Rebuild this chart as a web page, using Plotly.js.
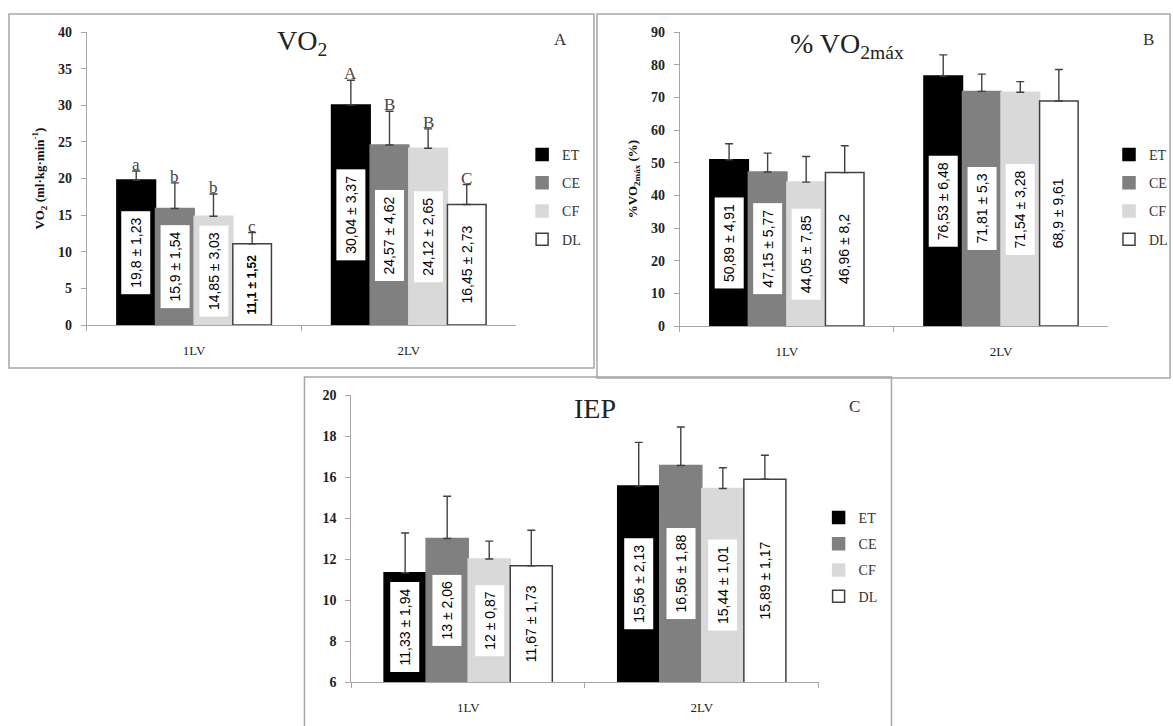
<!DOCTYPE html>
<html><head><meta charset="utf-8">
<script src="https://cdn.plot.ly/plotly-3.0.1.min.js"></script>
<style>html,body{margin:0;padding:0;background:#fff}#chart{width:1173px;height:726px}</style>
</head><body><div id="chart"></div>
<script>
// ---------- data ----------
const categories = ['1LV', '2LV'];
const groups = ['ET', 'CE', 'CF', 'DL'];

// Panel A: VO2
const vo2ET = [19.8, 30.04], vo2CE = [15.9, 24.57], vo2CF = [14.85, 24.12], vo2DL = [11.1, 16.45];
const vo2ErrET = [1.23, 3.37], vo2ErrCE = [3.5, 4.62], vo2ErrCF = [3.03, 2.65], vo2ErrDL = [1.52, 2.73];
const vo2LabET = ['19,8 ± 1,23', '30,04 ± 3,37'], vo2LabCE = ['15,9 ± 1,54', '24,57 ± 4,62'];
const vo2LabCF = ['14,85 ± 3,03', '24,12 ± 2,65'], vo2LabDL = ['11,1 ± 1,52', '16,45 ± 2,73'];
const vo2LetET = ['a', 'A'], vo2LetCE = ['b', 'B'], vo2LetCF = ['b', 'B'], vo2LetDL = ['c', 'C'];

// Panel B: %VO2max
const pctET = [50.89, 76.53], pctCE = [47.15, 71.81], pctCF = [44.05, 71.54], pctDL = [46.96, 68.9];
const pctErrET = [4.91, 6.48], pctErrCE = [5.77, 5.3], pctErrCF = [7.85, 3.28], pctErrDL = [8.2, 9.61];
const pctLabET = ['50,89 ± 4,91', '76,53 ± 6,48'], pctLabCE = ['47,15 ± 5,77', '71,81 ± 5,3'];
const pctLabCF = ['44,05 ± 7,85', '71,54 ± 3,28'], pctLabDL = ['46,96 ± 8,2', '68,9 ± 9,61'];

// Panel C: IEP
const iepET = [11.33, 15.56], iepCE = [13, 16.56], iepCF = [12, 15.44], iepDL = [11.67, 15.89];
const iepErrET = [1.94, 2.13], iepErrCE = [2.06, 1.88], iepErrCF = [0.87, 1.01], iepErrDL = [1.73, 1.17];
const iepLabET = ['11,33 ± 1,94', '15,56 ± 2,13'], iepLabCE = ['13 ± 2,06', '16,56 ± 1,88'];
const iepLabCF = ['12 ± 0,87', '15,44 ± 1,01'], iepLabDL = ['11,67 ± 1,73', '15,89 ± 1,17'];

// ---------- layout helpers ----------
const W = 1173, H = 726;
const px = v => v / W, py = v => 1 - v / H;
const SERIF = 'Liberation Serif, Times New Roman, serif';
const SANS = 'Liberation Sans, Arial, sans-serif';
const fillColors = ['#000000', '#808080', '#d9d9d9', '#ffffff'];
const lineColors = ['#000000', '#808080', '#d9d9d9', '#404040'];
const BARGAP = 0.28;

// approximate Arial text width in em
const emWidth = s => [...s].reduce((a, ch) => a + (/[0-9]/.test(ch) ? 0.556 : ch === '±' ? 0.584 : 0.278), 0);

const panels = [
  { sfx: '', xd: [87, 517], yd: [325, 32], range: [0, 40], dtick: 5,
    means: [vo2ET, vo2CE, vo2CF, vo2DL], errs: [vo2ErrET, vo2ErrCE, vo2ErrCF, vo2ErrDL],
    labels: [vo2LabET, vo2LabCE, vo2LabCF, vo2LabDL], letters: [vo2LetET, vo2LetCE, vo2LetCF, vo2LetDL],
    legend: 'legend', lx: 523, ly: 139, gap: 7,
    title: 'VO<sub>2</sub>', tx: 303, ty: 43, tag: 'A', gx: 561, gy: 39,
    ytitle: 'VO<sub>2</sub> (ml·kg·min<sup>-1</sup>)' },
  { sfx: '2', xd: [681, 1110], yd: [326, 32], range: [0, 90], dtick: 10,
    means: [pctET, pctCE, pctCF, pctDL], errs: [pctErrET, pctErrCE, pctErrCF, pctErrDL],
    labels: [pctLabET, pctLabCE, pctLabCF, pctLabDL], letters: null,
    legend: 'legend2', lx: 1111, ly: 139, gap: 7,
    title: '% VO<sub>2máx</sub>', tx: 848, ty: 45, tag: 'B', gx: 1150, gy: 39,
    ytitle: '%VO<sub>2máx</sub> (%)' },
  { sfx: '3', xd: [352, 820], yd: [682, 395], range: [6, 20], dtick: 2,
    means: [iepET, iepCE, iepCF, iepDL], errs: [iepErrET, iepErrCE, iepErrCF, iepErrDL],
    labels: [iepLabET, iepLabCE, iepLabCF, iepLabDL], letters: null,
    legend: 'legend3', lx: 820, ly: 502, gap: 5,
    title: 'IEP', tx: 596, ty: 408, tag: 'C', gx: 856, gy: 406,
    ytitle: null }
];

const data = [];
const annotations = [];
const layout = {
  width: W, height: H, margin: { l: 0, r: 0, t: 0, b: 0 },
  paper_bgcolor: '#fff', plot_bgcolor: 'rgba(0,0,0,0)',
  barmode: 'group', bargap: BARGAP, bargroupgap: 0,
  showlegend: true, font: { family: SERIF, color: '#333' }
};

const bw = (1 - BARGAP) / groups.length;

panels.forEach((p, pi) => {
  const xa = 'x' + p.sfx, ya = 'y' + p.sfx;
  const pxPerUnit = (p.yd[0] - p.yd[1]) / (p.range[1] - p.range[0]);
  groups.forEach((g, j) => {
    data.push({
      type: 'bar', name: g, x: categories, y: p.means[j],
      xaxis: xa, yaxis: ya, legend: p.legend, legendgroup: g + pi,
      marker: { color: fillColors[j], line: { color: lineColors[j], width: 1.5 } },
      error_y: { type: 'data', symmetric: false, array: p.errs[j], arrayminus: [0, 0],
                 color: '#404040', thickness: 1.4, width: 4 },
      hovertemplate: '%{x} ' + g + ': %{y}<extra></extra>'
    });
    categories.forEach((c, i) => {
      const xpos = i + (j - 1.5) * bw;
      const txt = p.labels[j][i];
      const barPx = (p.means[j][i] - p.range[0]) * pxPerUnit;
      const fits = emWidth(txt) * 14 + 12 <= barPx;
      annotations.push({
        xref: xa, yref: ya, x: xpos, y: (p.range[0] + p.means[j][i]) / 2,
        text: txt, textangle: -90, showarrow: false,
        bgcolor: '#ffffff', borderpad: fits ? 6 : 4,
        font: fits ? { family: SANS, size: 14, color: '#000' }
                   : { family: SANS, size: 12, color: '#000', weight: 'bold' }
      });
      if (p.letters) {
        annotations.push({
          xref: xa, yref: ya, x: xpos, y: p.means[j][i] + p.errs[j][i],
          yanchor: 'bottom', yshift: -5, text: p.letters[j][i], showarrow: false,
          font: { family: SERIF, size: 17, color: '#444' }
        });
      }
    });
  });

  layout['xaxis' + p.sfx] = {
    domain: [px(p.xd[0]), px(p.xd[1])], anchor: ya, type: 'category',
    showline: true, linecolor: '#a6a6a6', linewidth: 1.2,
    ticks: 'outside', tickson: 'boundaries', ticklen: 5, tickcolor: '#a6a6a6',
    ticklabelstandoff: 13, showgrid: false, zeroline: false, fixedrange: true,
    tickfont: { family: SERIF, size: 13, color: '#222' }
  };
  const yax = {
    domain: [py(p.yd[0]), py(p.yd[1])], anchor: xa, range: p.range, dtick: p.dtick,
    showline: true, linecolor: '#a6a6a6', linewidth: 1.2,
    ticks: 'outside', ticklen: 5, tickcolor: '#a6a6a6', ticklabelstandoff: 6,
    showgrid: false, zeroline: false, fixedrange: true,
    tickfont: { family: SERIF, size: 14, color: '#222', weight: 'bold' }
  };
  if (p.ytitle) {
    yax.title = { text: p.ytitle, standoff: 10, font: { family: SERIF, size: 13, color: '#111', weight: 'bold' } };
  }
  layout['yaxis' + p.sfx] = yax;
  layout[p.legend] = {
    x: px(p.lx), y: py(p.ly), xanchor: 'left', yanchor: 'top',
    bgcolor: 'rgba(0,0,0,0)', tracegroupgap: p.gap, itemwidth: 30,
    font: { family: SERIF, size: 14, color: '#333' }
  };
  annotations.push({
    xref: 'paper', yref: 'paper', x: px(p.tx), y: py(p.ty), xanchor: 'center', yanchor: 'middle',
    showarrow: false, text: p.title, font: { family: SERIF, size: 28, color: '#222' }
  });
  annotations.push({
    xref: 'paper', yref: 'paper', x: px(p.gx), y: py(p.gy), xanchor: 'center', yanchor: 'middle',
    showarrow: false, text: p.tag, font: { family: SERIF, size: 17, color: '#333' }
  });
});

const frame = (x0, y0, x1, y1) => ({
  type: 'rect', xref: 'paper', yref: 'paper', x0: px(x0), x1: px(x1), y0: py(y1), y1: py(y0),
  line: { color: '#a6a6a6', width: 1.5 }, fillcolor: 'rgba(0,0,0,0)', layer: 'below'
});
layout.shapes = [frame(9, 14, 595, 368), frame(598, 14, 1172, 378), frame(305, 377, 893, 730)];
layout.annotations = annotations;

Plotly.newPlot('chart', data, layout, { displayModeBar: false, responsive: false });
</script></body></html>
